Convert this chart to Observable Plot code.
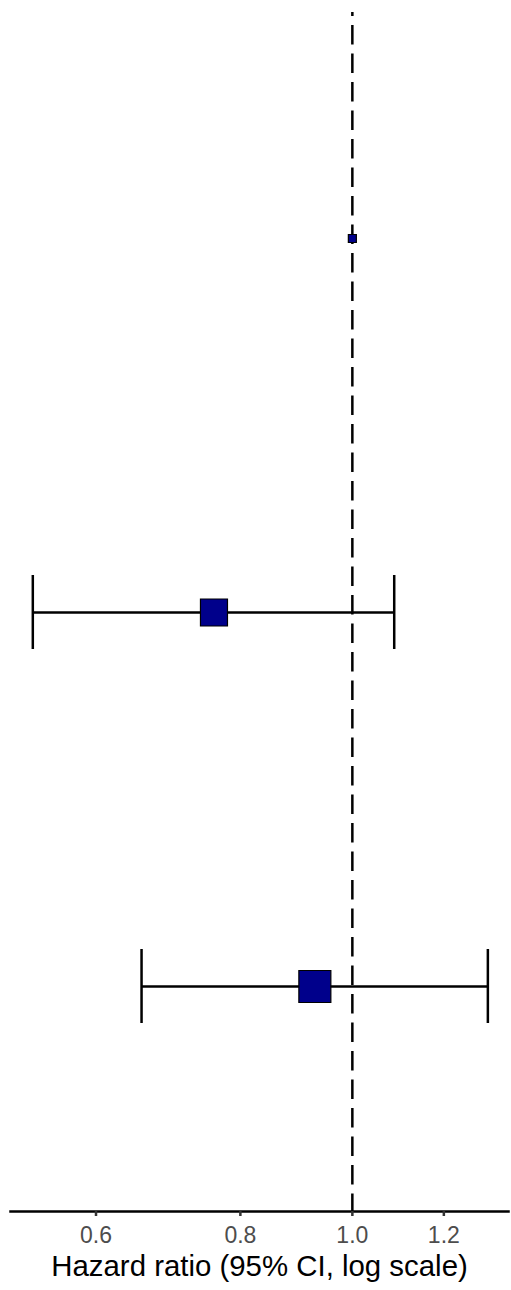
<!DOCTYPE html>
<html><head><meta charset="utf-8">
<script src="https://cdn.jsdelivr.net/npm/d3@7"></script>
<script src="https://cdn.jsdelivr.net/npm/@observablehq/plot@0.6"></script>
<style>body{margin:0;background:#fff} svg{display:block}</style>
</head><body><div id="chart"></div>
<script>
const rows = ["Reference", "Group 2", "Group 3"];
const hr = [1.0, 0.759, 0.928];
const lower = [null, 0.529, 0.657];
const upper = [null, 1.087, 1.310];
const weight = [0.0625, 0.713, 1.0];
const xTicks = [0.6, 0.8, 1.0, 1.2];
const xDomain = [0.506, 1.365];
const refValue = [1];
const axisTitle = ["Hazard ratio (95% CI, log scale)"];

const data = rows.map((r, i) => ({row: r, hr: hr[i], lo: lower[i], hi: upper[i], w: weight[i]}));
const ci = data.filter(d => d.lo != null);

const chart = Plot.plot({
  width: 511,
  height: 1290,
  marginTop: 12,
  marginBottom: 79,
  marginLeft: 10,
  marginRight: 3,
  style: {fontFamily: "'Liberation Sans', Arial, sans-serif", background: "#fff"},
  x: {type: "log", domain: xDomain},
  y: {type: "band", domain: rows, paddingInner: 0.8024, paddingOuter: 0.5012, axis: null},
  r: {type: "sqrt", domain: [0, 1], range: [0, 18.05]},
  marks: [
    Plot.ruleX(refValue, {stroke: "black", strokeWidth: 2.5, strokeDasharray: "19.5,9", strokeDashoffset: 15.5}),
    Plot.ruleY(ci, {x1: "lo", x2: "hi", y: "row", stroke: "black", strokeWidth: 2.5}),
    Plot.tickX(ci, {x: "lo", y: "row", stroke: "black", strokeWidth: 2.5}),
    Plot.tickX(ci, {x: "hi", y: "row", stroke: "black", strokeWidth: 2.5}),
    Plot.dot(data, {x: "hr", y: "row", r: "w", symbol: "square", fill: "#00008B", stroke: "black", strokeWidth: 1.2}),
    Plot.frame({anchor: "bottom", stroke: "black", strokeWidth: 2.5}),
    Plot.axisX({ticks: xTicks, tickFormat: d => d.toFixed(1), tickSize: 5, tickPadding: 10, fontSize: 23, color: "#4D4D4D", stroke: "#333", strokeWidth: 2.5, label: null}),
    Plot.text(axisTitle, {text: d => d, frameAnchor: "bottom", dy: 55, fontSize: 29.4, fill: "black", lineAnchor: "middle"})
  ]
});
document.getElementById("chart").appendChild(chart);
</script>
</body></html>
